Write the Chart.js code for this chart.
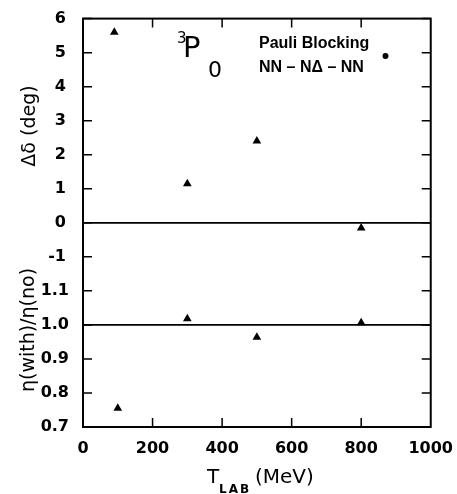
<!DOCTYPE html>
<html>
<head>
<meta charset="utf-8">
<script src="https://cdn.jsdelivr.net/npm/chart.js@4.4.1/dist/chart.umd.min.js"></script>
<style>
  html, body { margin: 0; padding: 0; background: #fff; }
</style>
</head>
<body>
<canvas id="chart" width="457" height="494"></canvas>
<script>
// T_LAB (MeV) of the calculated points
let energiesTop = [90, 300, 500, 800];
let energiesBottom = [100, 300, 500, 800];

// upper panel: phase shift change, deg
let deltaShift = [5.6, 1.15, 2.4, -0.15];
// lower panel: inelasticity ratio
let etaRatio = [0.755, 1.018, 0.964, 1.006];

// the lone dot next to the legend text
let dotEnergy = [870];
let dotShift = [4.9];

let xTicks = [0, 200, 400, 600, 800, 1000];
let topTicks = [-1, 0, 1, 2, 3, 4, 5, 6];
let bottomTicks = [0.7, 0.8, 0.9, 1.0, 1.1];

Chart.defaults.font.family = "'DejaVu Sans', sans-serif";
Chart.defaults.color = "#000";

function points(xs, ys) {
    return xs.map((x, i) => ({ x: x, y: ys[i] }));
}

function tickList(values) {
    return values.map(v => ({ value: v }));
}

let xEnds = [xTicks[0], xTicks[xTicks.length - 1]];

// frame, inward ticks and the hand lettered texts
let framePlugin = {
    id: "frame",
    afterDraw(chart) {
        let ctx = chart.ctx;
        let a = chart.chartArea;
        let s = chart.scales;
        let len = 9;

        ctx.save();
        ctx.strokeStyle = "#000";
        ctx.lineWidth = 2;
        ctx.strokeRect(a.left, a.top, a.right - a.left, a.bottom - a.top);

        ctx.lineWidth = 1.5;
        ctx.beginPath();
        xTicks.slice(1, -1).forEach(v => {
            let px = s.x.getPixelForValue(v);
            ctx.moveTo(px, a.bottom);
            ctx.lineTo(px, a.bottom - len);
            ctx.moveTo(px, a.top);
            ctx.lineTo(px, a.top + len);
        });
        [[s.yTop, topTicks], [s.yBot, bottomTicks]].forEach(([scale, ticks]) => {
            ticks.forEach(v => {
                let py = scale.getPixelForValue(v);
                ctx.moveTo(a.left, py);
                ctx.lineTo(a.left + len, py);
                ctx.moveTo(a.right, py);
                ctx.lineTo(a.right - len, py);
            });
        });
        ctx.stroke();

        ctx.fillStyle = "#000";
        ctx.textAlign = "left";
        ctx.textBaseline = "alphabetic";

        ctx.font = "15px 'DejaVu Sans'";
        ctx.fillText("3", 177, 43);
        ctx.font = "29px 'DejaVu Sans'";
        ctx.fillText("P", 183, 57);
        ctx.font = "22px 'DejaVu Sans'";
        ctx.fillText("0", 208, 77);

        ctx.font = "bold 16px 'Liberation Sans'";
        ctx.fillText("Pauli Blocking", 259, 48);
        ctx.fillText("NN \u2013 N\u0394 \u2013 NN", 259, 72);

        ctx.font = "20px 'DejaVu Sans'";
        ctx.fillText("T", 207, 483);
        ctx.fillText("(MeV)", 255, 483);
        ctx.font = "bold 12px 'DejaVu Sans'";
        ctx.letterSpacing = "2px";
        ctx.fillText("LAB", 219, 493);
        ctx.letterSpacing = "0px";

        ctx.font = "19px 'DejaVu Sans'";
        ctx.textAlign = "center";
        ctx.textBaseline = "middle";
        ctx.save();
        ctx.translate(30, 126);
        ctx.rotate(-Math.PI / 2);
        ctx.fillText("\u0394\u03b4 (deg)", 0, 0);
        ctx.restore();
        ctx.save();
        ctx.translate(29, 330);
        ctx.rotate(-Math.PI / 2);
        ctx.fillText("\u03b7(with)/\u03b7(no)", 0, 0);
        ctx.restore();

        ctx.restore();
    }
};

let tickFont = { size: 16, weight: "bold" };

new Chart(document.getElementById("chart"), {
    type: "scatter",
    data: {
        datasets: [
            {
                data: points(energiesTop, deltaShift),
                yAxisID: "yTop",
                pointStyle: "triangle",
                pointRadius: 5,
                backgroundColor: "#000",
                borderColor: "#000",
                borderWidth: 0
            },
            {
                data: points(energiesBottom, etaRatio),
                yAxisID: "yBot",
                pointStyle: "triangle",
                pointRadius: 5,
                backgroundColor: "#000",
                borderColor: "#000",
                borderWidth: 0
            },
            {
                data: points(dotEnergy, dotShift),
                yAxisID: "yTop",
                pointStyle: "circle",
                pointRadius: 3,
                backgroundColor: "#000",
                borderWidth: 0
            },
            {
                data: points(xEnds, [0, 0]),
                yAxisID: "yTop",
                showLine: true,
                pointRadius: 0,
                borderColor: "#000",
                borderWidth: 1.8
            },
            {
                data: points(xEnds, [1, 1]),
                yAxisID: "yBot",
                showLine: true,
                pointRadius: 0,
                borderColor: "#000",
                borderWidth: 1.8
            }
        ]
    },
    options: {
        responsive: false,
        animation: false,
        layout: { padding: { left: 0, right: 19, top: 16, bottom: 27 } },
        plugins: {
            legend: { display: false },
            tooltip: { enabled: false }
        },
        scales: {
            x: {
                type: "linear",
                min: 0,
                max: 1000,
                grid: { display: false },
                border: { display: false },
                afterBuildTicks: s => { s.ticks = tickList(xTicks); },
                afterFit: s => { s.height = 40; },
                ticks: { padding: 4, font: tickFont, maxRotation: 0, autoSkip: false, callback: v => String(v) }
            },
            // stacked axes are laid out bottom first
            yBot: {
                type: "linear",
                position: "left",
                stack: "y",
                stackWeight: 4.5,
                min: 0.7,
                max: 1.15,
                grid: { display: false },
                border: { display: false },
                afterBuildTicks: s => { s.ticks = tickList(bottomTicks); },
                afterFit: s => { s.width = 83; },
                ticks: { padding: 6, font: tickFont, autoSkip: false, callback: v => v.toFixed(1) }
            },
            yTop: {
                type: "linear",
                position: "left",
                stack: "y",
                stackWeight: 7.5,
                min: -1.5,
                max: 6,
                grid: { display: false },
                border: { display: false },
                afterBuildTicks: s => { s.ticks = tickList(topTicks); },
                afterFit: s => { s.width = 83; },
                ticks: { padding: 9, font: tickFont, autoSkip: false, callback: v => String(v) }
            }
        }
    },
    plugins: [framePlugin]
});
</script>
</body>
</html>
